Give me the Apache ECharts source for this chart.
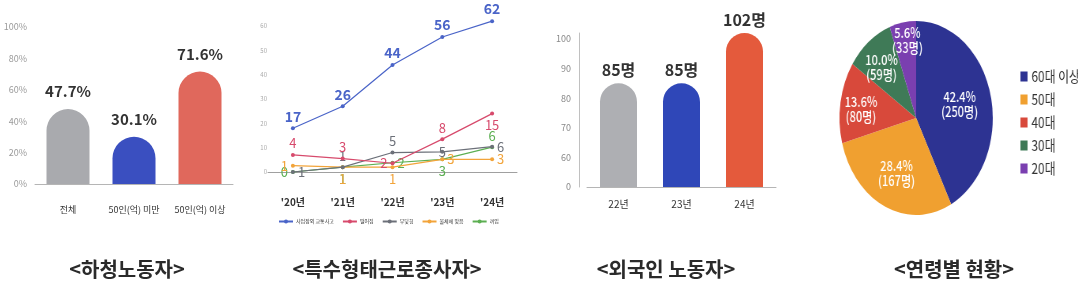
<!DOCTYPE html>
<html>
<head>
<meta charset="utf-8">
<script src="https://cdn.jsdelivr.net/npm/echarts@6/dist/echarts.min.js"></script>
<style>
html,body{margin:0;padding:0;background:#fff;}
#main{position:absolute;left:0;top:0;width:1078px;height:300px;}
#pie{position:absolute;left:800px;top:0;width:352px;height:300px;transform:scaleX(0.79);transform-origin:0 0;}
</style>
</head>
<body>
<div id="main"></div>
<div id="pie"></div>
<script>
// ---- Panel 1: 하청노동자 ----
const subCats = ['전체', '50인(억) 미만', '50인(억) 이상'];
const subValues = [47.7, 30.1, 71.6];

// ---- Panel 2: 특수형태근로종사자 ----
const lineYears = ["'20년", "'21년", "'22년", "'23년", "'24년"];
const lineNames = ['사업장외 교통사고', '떨어짐', '부딪힘', '물체에 맞음', '끼임'];
// plotted heights
const trafficVals = [18, 27, 44, 55.5, 62];
const fallVals = [7, 5.5, 3.6, 13.5, 24];
const bumpVals = [0, 2, 8, 8.3, 10.4];
const hitVals = [2.6, 2, 2, 5.2, 5.2];
const caughtVals = [0, 2, 3.8, 5.2, 10.2];
// printed annotations
const trafficLabels = ['17', '26', '44', '56', '62'];
const fallLabels = ['4', '3', '2', '8', '15'];
const bumpLabels = ['1', '1', '5', '5', '6'];
const hitLabels = ['1', '1', '1', '3', '3'];
const caughtLabels = ['0', '1', '2', '3', '6'];

// ---- Panel 3: 외국인 노동자 ----
const foreignCats = ['22년', '23년', '24년'];
const foreignValues = [85, 85, 102];
const foreignTickValues = [50, 60, 70, 80, 90, 100];
const foreignTickLabels = ['0', '60', '70', '80', '90', '100'];

// ---- Panel 4: 연령별 현황 ----
const ageNames = ['60대 이상', '50대', '40대', '30대', '20대'];
const ageCounts = [250, 167, 80, 59, 33];

// ---- Titles ----
const panelTitles = ['<하청노동자>', '<특수형태근로종사자>', '<외국인 노동자>', '<연령별 현황>'];

const FONT = '"Noto Sans CJK KR", "Noto Sans", sans-serif';

const subColors = ['#a9aaae', '#3a4fc0', '#e0685c'];
const foreignColors = ['#aeafb3', '#2f47b8', '#e45a3c'];
const lineColors = ['#4a64c8', '#d74a6c', '#6c7079', '#f2a43a', '#5caf52'];
const ageColors = ['#2d3392', '#f0a030', '#d8493b', '#3f7a57', '#7a3fb0'];

// label placement (style only)
const lineLabelPos = [
  ['top', 'top', 'top', 'top', 'top'],
  ['top', 'top', 'left', 'top', 'bottom'],
  ['right', 'top', 'top', 'inside', 'right'],
  ['left', 'bottom', 'bottom', 'right', 'right'],
  ['left', 'bottom', 'right', 'bottom', 'top']
];
const pieLabelShift = [[5, -2], [-4, 8], [-19, 0], [-12, -10], [-2, -27]];
const lineVals = [trafficVals, fallVals, bumpVals, hitVals, caughtVals];
const lineLbls = [trafficLabels, fallLabels, bumpLabels, hitLabels, caughtLabels];

const main = echarts.init(document.getElementById('main'), null, {renderer: 'canvas'});

const titleCenters = [122, 382, 661, 949];

const option = {
  backgroundColor: '#ffffff',
  animation: false,
  textStyle: {fontFamily: FONT},
  title: panelTitles.map((t, i) => ({
    text: t,
    left: titleCenters[i],
    top: 254,
    textAlign: 'center',
    textStyle: {fontFamily: FONT, fontSize: 20, fontWeight: 'bold', color: '#2a2a2a'}
  })),
  legend: {
    data: lineNames,
    left: 273,
    top: 214,
    itemWidth: 14,
    itemHeight: 5,
    itemGap: 8,
    textStyle: {fontSize: 5, color: '#333', fontFamily: FONT, padding: [0, 0, 0, -2]}
  },
  grid: [
    {left: 35, top: 27, width: 198, height: 157},
    {left: 268, top: 26, width: 249, height: 146},
    {left: 587, top: 33, width: 189, height: 154}
  ],
  xAxis: [
    {
      gridIndex: 0, type: 'category', data: subCats,
      axisLine: {lineStyle: {color: '#b5b5b5'}}, axisTick: {show: false},
      axisLabel: {interval: 0, fontSize: 9, color: '#333', margin: 21, fontFamily: FONT}
    },
    {
      gridIndex: 1, type: 'category', data: lineYears, offset: 17,
      axisLine: {lineStyle: {color: '#a0a0a0'}}, axisTick: {show: false},
      axisLabel: {interval: 0, fontSize: 10, fontWeight: 'bold', color: '#333', margin: 8, fontFamily: FONT}
    },
    {
      gridIndex: 2, type: 'category', data: foreignCats,
      axisLine: {lineStyle: {color: '#b5b5b5'}}, axisTick: {show: false},
      axisLabel: {interval: 0, fontSize: 10, color: '#333', margin: 12, fontFamily: FONT}
    }
  ],
  yAxis: [
    {
      gridIndex: 0, type: 'value', min: 0, max: 100, interval: 20,
      splitLine: {show: false}, axisLine: {show: false}, axisTick: {show: false},
      axisLabel: {formatter: '{value}%', fontSize: 9, color: '#9a9a9a', margin: 8}
    },
    {
      gridIndex: 1, type: 'value', min: 0, max: 60, interval: 10,
      splitLine: {show: false}, axisLine: {show: false}, axisTick: {show: false},
      axisLabel: {fontSize: 6, color: '#aaa', margin: 1}
    },
    {
      gridIndex: 2, type: 'value', min: 50, max: 102, interval: 10, offset: 8,
      splitLine: {show: false}, axisLine: {show: true, lineStyle: {color: '#c0c0c0'}}, axisTick: {show: false},
      axisLabel: {
        fontSize: 9, color: '#888', margin: 8, showMaxLabel: false,
        formatter: (v) => {
          const k = foreignTickValues.indexOf(v);
          return k >= 0 ? foreignTickLabels[k] : '';
        }
      }
    }
  ],
  series: [
    {
      type: 'bar', xAxisIndex: 0, yAxisIndex: 0,
      barWidth: 43,
      data: subValues.map((v, i) => ({value: v, itemStyle: {color: subColors[i], borderRadius: [21.5, 21.5, 0, 0]}})),
      label: {show: true, position: 'top', distance: 10, formatter: '{c}%', fontSize: 15, fontWeight: 'bold', color: '#333', fontFamily: FONT}
    },
    ...lineNames.map((name, s) => ({
      name: name,
      type: 'line', xAxisIndex: 1, yAxisIndex: 1,
      clip: false,
      symbol: 'circle', symbolSize: 4,
      lineStyle: {width: 1.2, color: lineColors[s]},
      itemStyle: {color: lineColors[s]},
      z: 10 - s,
      data: lineVals[s].map((v, i) => ({
        value: v,
        label: {position: lineLabelPos[s][i], formatter: lineLbls[s][i]}
      })),
      label: {
        show: true, distance: 3,
        fontSize: s === 0 ? 14 : 13,
        fontWeight: s === 0 ? 'bold' : 'normal',
        color: lineColors[s], fontFamily: FONT
      }
    })),
    {
      type: 'bar', xAxisIndex: 2, yAxisIndex: 2,
      barWidth: 37,
      data: foreignValues.map((v, i) => ({value: v, itemStyle: {color: foreignColors[i], borderRadius: [18.5, 18.5, 0, 0]}})),
      label: {show: true, position: 'top', distance: 5, formatter: '{c}명', fontSize: 16, fontWeight: 'bold', color: '#333', fontFamily: FONT}
    }
  ]
};
main.setOption(option);

const pie = echarts.init(document.getElementById('pie'), null, {renderer: 'canvas'});
pie.setOption({
  animation: false,
  textStyle: {fontFamily: FONT},
  legend: {
    orient: 'vertical',
    left: 274,
    top: 64,
    data: ageNames,
    icon: 'rect',
    itemWidth: 9,
    itemHeight: 10,
    itemGap: 8,
    textStyle: {fontSize: 15, color: '#333', fontFamily: FONT}
  },
  series: [{
    type: 'pie',
    center: [147, 118],
    radius: [0, 97],
    startAngle: 90,
    clockwise: true,
    percentPrecision: 1,
    avoidLabelOverlap: false,
    labelLayout: {hideOverlap: false},
    data: ageNames.map((n, i) => ({
      name: n, value: ageCounts[i],
      itemStyle: {color: ageColors[i]},
      label: {offset: pieLabelShift[i]}
    })),
    label: {
      show: true, position: 'inner',
      formatter: (p) => p.percent.toFixed(1) + '%\n(' + p.value + '명)',
      color: '#fff', fontSize: 14, fontWeight: 500, lineHeight: 15, fontFamily: FONT
    },
    labelLine: {show: false}
  }]
});
</script>
</body>
</html>
